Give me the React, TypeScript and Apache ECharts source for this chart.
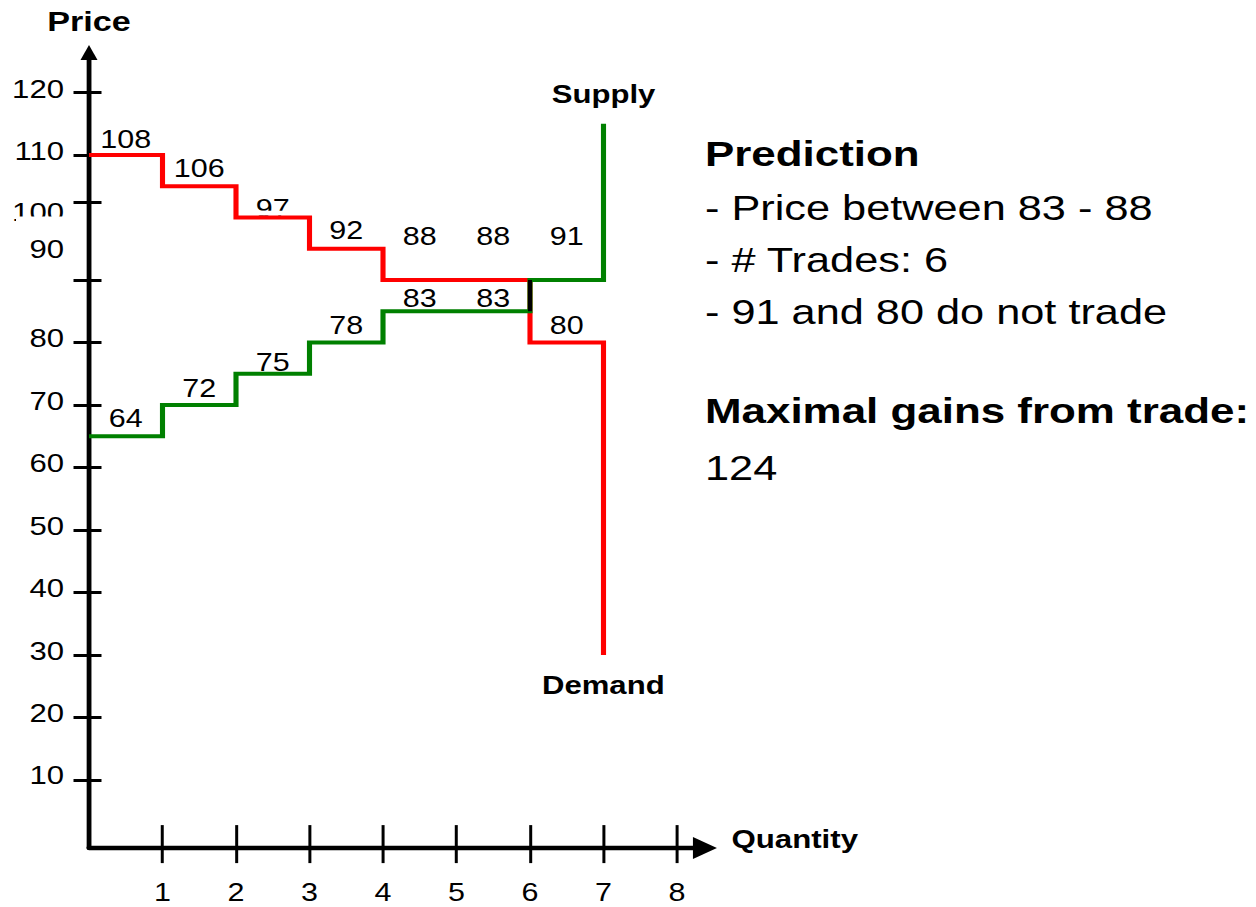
import React, { useEffect, useRef } from "react";
import * as echarts from "echarts";

// ---- data ----
const quantities = [0, 1, 2, 3, 4, 5, 6, 7];
const demandSteps = [110, 105, 100, 95, 90, 90, 80];
const demandEnd = 30;
const supplySteps = [65, 70, 75, 80, 85, 85, 90];
const supplyEnd = 115;
const demandValues = ["108", "106", "97", "92", "88", "88", "80"];
const supplyValues = ["64", "72", "75", "78", "83", "83", "91"];
const overlap = [
  [6, 85],
  [6, 90],
];
const xTicks = [1, 2, 3, 4, 5, 6, 7, 8];
const yTicks = [10, 20, 30, 40, 50, 60, 70, 80, 90, 102.4, 110, 120];
const yTickLabels = ["10", "20", "30", "40", "50", "60", "70", "80", "90", "100", "110", "120"];
const predictionLines = ["- Price between 83 - 88", "- # Trades: 6", "- 91 and 80 do not trade"];
const gainsValue = "124";

// ---- layout / style (not data) ----
const SX = 1.22; // horizontal stretch of the original picture
const FONT = "'Liberation Sans', Arial, Helvetica, sans-serif";
const yLabelAt = [10.8, 20.7, 30.7, 40.7, 50.7, 60.7, 70.7, 80.7, 95, 100.8, 110.7, 120.6];
const demandLabelDy = [-16, -18, -9, -18, -43.5, -43.5, -17];
const supplyLabelDy = [-18, -17, -11.5, -17, -13, -13, -43.5];

function stepData(steps: number[], end: number) {
  const pts = steps.map((v, i) => [quantities[i], v]);
  pts.push([quantities[steps.length], end]);
  return pts;
}

export default function App() {
  const ref = useRef<HTMLDivElement>(null);
  useEffect(() => {
    if (!ref.current) return;
    const chart = echarts.init(ref.current, undefined, { renderer: "svg" });

    const labelPts: number[][] = [];
    const labelTexts: string[] = [];
    const labelDy: number[] = [];
    demandSteps.forEach((v, i) => {
      labelPts.push([quantities[i] + 0.5, v]);
      labelTexts.push(demandValues[i]);
      labelDy.push(demandLabelDy[i]);
    });
    supplySteps.forEach((v, i) => {
      labelPts.push([quantities[i] + 0.5, v]);
      labelTexts.push(supplyValues[i]);
      labelDy.push(supplyLabelDy[i]);
    });

    const xMin = 0,
      xMax = 8.38,
      yMin = -0.9,
      yMax = 126.4;

    const commonX = { type: "value", min: xMin, max: xMax, position: "bottom", splitLine: { show: false } };
    const commonY = { type: "value", min: yMin, max: yMax, position: "left", splitLine: { show: false } };

    const bold = (size: number) => ({ fontFamily: FONT, fontWeight: "bold", fontSize: size, fill: "#000" });
    const reg = (size: number) => ({ fontFamily: FONT, fontSize: size, fill: "#000" });

    const textX = 705 / SX;
    const graphics: any[] = [
      // white boxes that hide parts of the "100" and "97" texts, as in the original slide
      { type: "rect", z: 1, shape: { x: 16 / SX, y: 216.5, width: 56 / SX, height: 10 }, style: { fill: "#fff" } },
      { type: "rect", z: 1, shape: { x: 248 / SX, y: 210.7, width: 50 / SX, height: 4.8 }, style: { fill: "#fff" } },
      { type: "text", z: 5, x: 603.5 / SX, y: 94, style: { ...bold(25.5), text: "Supply", align: "center", verticalAlign: "middle" } },
      { type: "text", z: 5, x: 603.3 / SX, y: 685, style: { ...bold(25.5), text: "Demand", align: "center", verticalAlign: "middle" } },
      { type: "text", z: 5, x: textX, y: 154.2, style: { ...bold(36), text: "Prediction", verticalAlign: "middle" } },
      { type: "text", z: 5, x: textX, y: 207.8, style: { ...reg(35.5), text: predictionLines[0], verticalAlign: "middle" } },
      { type: "text", z: 5, x: textX, y: 259.7, style: { ...reg(35.5), text: predictionLines[1], verticalAlign: "middle" } },
      { type: "text", z: 5, x: textX, y: 311.3, style: { ...reg(35.5), text: predictionLines[2], verticalAlign: "middle" } },
      { type: "text", z: 5, x: textX, y: 410.8, style: { ...bold(36), text: "Maximal gains from trade:", verticalAlign: "middle" } },
      { type: "text", z: 5, x: textX, y: 467.8, style: { ...reg(35.5), text: gainsValue, verticalAlign: "middle" } },
    ];

    chart.setOption({
      animation: false,
      backgroundColor: "#fff",
      textStyle: { fontFamily: FONT },
      grid: {
        left: 89 / SX,
        top: 52.5,
        width: (8.38 * 73.5) / SX,
        height: 795.6,
        containLabel: false,
      },
      xAxis: [
        {
          ...commonX,
          name: "Quantity",
          nameLocation: "end",
          nameGap: 21.7,
          nameTextStyle: {
            fontFamily: FONT,
            fontWeight: "bold",
            fontSize: 25.6,
            color: "#000",
            verticalAlign: "bottom",
            lineHeight: 18,
          },
          axisLine: {
            show: true,
            onZero: false,
            symbol: ["none", "triangle"],
            symbolSize: [22, 24 / SX],
            lineStyle: { color: "#000", width: 4.3 },
          },
          axisTick: {
            show: true,
            inside: false,
            length: 15,
            customValues: xTicks,
            lineStyle: { color: "#000", width: 3 / SX },
          },
          axisLabel: {
            show: true,
            customValues: xTicks,
            margin: 32,
            fontSize: 25,
            color: "#000",
            fontFamily: FONT,
          },
        },
        {
          ...commonX,
          axisLine: { show: false, onZero: false },
          axisTick: {
            show: true,
            inside: true,
            length: 23,
            customValues: xTicks,
            lineStyle: { color: "#000", width: 3 / SX },
          },
          axisLabel: { show: false },
        },
      ],
      yAxis: [
        {
          ...commonY,
          name: "Price",
          nameLocation: "end",
          nameGap: 17,
          nameTextStyle: { fontFamily: FONT, fontWeight: "bold", fontSize: 28, color: "#000" },
          axisLine: {
            show: true,
            onZero: false,
            symbol: ["none", "triangle"],
            symbolSize: [17 / SX, 15],
            lineStyle: { color: "#000", width: 4.8 / SX },
          },
          axisTick: {
            show: true,
            inside: false,
            length: 15.5 / SX,
            customValues: yTicks,
            lineStyle: { color: "#000", width: 3 },
          },
          axisLabel: {
            show: true,
            customValues: yLabelAt,
            margin: 25 / SX,
            fontSize: 25.5,
            color: "#000",
            fontFamily: FONT,
            formatter: (v: number) => {
              let best = 0;
              yLabelAt.forEach((p, i) => {
                if (Math.abs(p - v) < Math.abs(yLabelAt[best] - v)) best = i;
              });
              return yTickLabels[best];
            },
          },
        },
        {
          ...commonY,
          axisLine: { show: false, onZero: false },
          axisTick: {
            show: true,
            inside: true,
            length: 12.5 / SX,
            customValues: yTicks,
            lineStyle: { color: "#000", width: 3 },
          },
          axisLabel: { show: false },
        },
      ],
      graphic: graphics,
      series: [
        {
          name: "Value labels",
          type: "custom",
          coordinateSystem: "cartesian2d",
          z: 0,
          encode: { x: 0, y: 1 },
          data: labelPts,
          renderItem: (params: any, api: any) => {
            const p = api.coord([api.value(0), api.value(1)]);
            const i = params.dataIndex;
            return {
              type: "text",
              x: p[0],
              y: p[1] + labelDy[i],
              style: {
                text: labelTexts[i],
                fontSize: 25,
                fontFamily: FONT,
                fill: "#000",
                align: "center",
                verticalAlign: "middle",
              },
            };
          },
        },
        {
          name: "Demand",
          type: "line",
          step: "end",
          z: 2,
          showSymbol: false,
          symbol: "none",
          data: stepData(demandSteps, demandEnd),
          lineStyle: { color: "#ff0000", width: 4.2, join: "miter", cap: "butt" },
        },
        {
          name: "Supply",
          type: "line",
          step: "end",
          z: 2,
          showSymbol: false,
          symbol: "none",
          data: stepData(supplySteps, supplyEnd),
          lineStyle: { color: "#008000", width: 4.2, join: "miter", cap: "butt" },
        },
        {
          name: "Overlap",
          type: "line",
          z: 3,
          showSymbol: false,
          symbol: "none",
          data: overlap,
          lineStyle: { color: "#000", width: 4 / SX, cap: "butt" },
        },
      ],
    });
    return () => chart.dispose();
  }, []);

  return (
    <div
      ref={ref}
      style={{
        position: "fixed",
        left: 0,
        top: 0,
        width: 1256 / SX,
        height: 907,
        transform: `scaleX(${SX})`,
        transformOrigin: "0 0",
        background: "#fff",
      }}
    />
  );
}
